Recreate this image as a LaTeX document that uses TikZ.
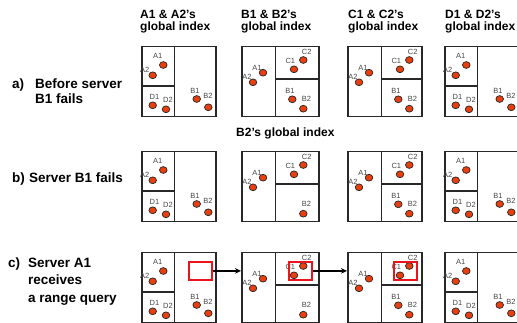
\documentclass[tikz,border=0pt]{standalone}
\usepackage{fontspec}
\setmainfont{Liberation Sans}
\usetikzlibrary{arrows.meta}

\definecolor{siteorange}{RGB}{232,62,16}
\definecolor{queryred}{RGB}{236,20,28}
\definecolor{linegray}{RGB}{40,40,40}
\definecolor{labgray}{RGB}{70,70,70}

\tikzset{
  frame/.style={draw=linegray, line width=1.5pt, minimum height=70pt,
    inner sep=0pt, anchor=north west},
  divider/.style={draw=linegray, line width=1.5pt},
  site/.style={draw=black!85, line width=0.7pt, fill=siteorange},
  sitelab/.style={text=labgray, font=\fontsize{7.5}{8}\selectfont, inner sep=0pt},
  query/.style={draw=queryred, line width=1.8pt, minimum width=23pt,
    minimum height=18pt, inner sep=0pt, anchor=north west},
  fwd/.style={draw=black, line width=1.4pt, -{Stealth[length=6pt,width=5.5pt]}},
  coltitle/.style={font=\bfseries\fontsize{12}{13.5}\selectfont,
    inner sep=0pt, anchor=base west},
  rowlab/.style={font=\bfseries\fontsize{13.5}{15}\selectfont,
    inner sep=0pt, anchor=base west},
}

% one server site: dot position, label position, label text
\newcommand\site[5]{%
  \node[sitelab] at (#3,#4) {#5};
  \draw[site] (#1,#2) ellipse [x radius=3.8, y radius=3.4];}

% index owned by an A/D server: A and D cells on the left, B cell on the right
% #1 name, #2 left, #3 top, #4 width
\newcommand\adindex[4]{%
  \node[frame, minimum width=#4pt] (#1) at (#2,#3) {};
  \begin{scope}[shift={(#2,#3)}]
    \draw[divider] (33.5,0) -- (33.5,70);
    \draw[divider] (0,40) -- (33.5,40);
    \site{22.3}{19}{16.8}{9.5}{A1}
    \site{11.7}{29.3}{3.8}{24}{A2}
    \site{11.7}{59.3}{13.5}{51}{D1}
    \site{25}{63.3}{27}{54}{D2}
    \site{55.7}{53}{54}{45}{B1}
    \site{67.3}{61.3}{67}{50}{B2}
  \end{scope}}

% index owned by a B/C server: A cell on the left, C and B cells on the right
% #1 name, #2 left, #3 top, #4 width, #5 extra sites
\newcommand\bcindex[5]{%
  \node[frame, minimum width=#4pt] (#1) at (#2,#3) {};
  \begin{scope}[shift={(#2,#3)}]
    \draw[divider] (34.5,0) -- (34.5,70);
    \draw[divider] (34.5,33) -- (#4,33);
    \site{22}{26.7}{16}{21.7}{A1}
    \site{12}{36.3}{6}{30.7}{A2}
    \site{53}{23.3}{49.3}{14.7}{C1}
    \site{62.3}{14}{65.7}{5.7}{C2}
    #5
    \site{62.3}{62.7}{65.5}{53}{B2}
  \end{scope}}

\newcommand\bonesite{\site{51.3}{53.3}{49}{44.7}{B1}}

\begin{document}
\begin{tikzpicture}[x=1pt, y=-1pt]
  \useasboundingbox (0,0) rectangle (517,323);
  \clip (0,0) rectangle (517,323);

  % column headings
  \node[coltitle] (ta1) at (140,18.5) {A1 \& A2’s};
  \node[coltitle] (ta2) at (140,30.5) {global index};
  \node[coltitle] (tb1) at (241,18.5) {B1 \& B2’s};
  \node[coltitle] (tb2) at (241,30.5) {global index};
  \node[coltitle] (tc1) at (348,18.5) {C1 \& C2’s};
  \node[coltitle] (tc2) at (348,30.5) {global index};
  \node[coltitle] (td1) at (445,18.5) {D1 \& D2’s};
  \node[coltitle] (td2) at (445,30.5) {global index};
  \node[coltitle] (tb2row) at (236,137) {B2’s global index};

  % row captions
  \node[rowlab] (la) at (12,89) {a)};
  \node[rowlab] (la1) at (35,89) {Before server};
  \node[rowlab] (la2) at (35,104) {B1 fails};
  \node[rowlab] (lb) at (12,183) {b)};
  \node[rowlab] (lb1) at (29,183) {Server B1 fails};
  \node[rowlab] (lc) at (8,268) {c)};
  \node[rowlab] (lc1) at (28,268) {Server A1};
  \node[rowlab] (lc2) at (28,285) {receives};
  \node[rowlab] (lc3) at (28,302) {a range query};

  % a) before server B1 fails
  \adindex{a1}{141}{46}{74}
  \bcindex{a2}{241}{46}{77}{\bonesite}
  \bcindex{a3}{347}{46}{74}{\bonesite}
  \adindex{a4}{444}{46}{75}

  % b) server B1 fails
  \adindex{b1}{141}{151}{74}
  \bcindex{b2}{241}{151}{77}{}
  \bcindex{b3}{347}{151}{74}{\bonesite}
  \adindex{b4}{444}{151}{75}

  % c) range query forwarded from A1
  \adindex{c1}{141}{252}{74}
  \bcindex{c2}{241}{252}{77}{}
  \bcindex{c3}{347}{252}{74}{\bonesite}
  \adindex{c4}{444}{252}{75}

  \node[query] (q1) at (188,261) {};
  \node[query] (q2) at (288,261) {};
  \node[query] (q3) at (393,261) {};

  \draw[fwd] (q1.east) -- (q1.east -| c2.west);
  \draw[fwd] (q2.east) -- (q2.east -| c3.west);
\end{tikzpicture}
\end{document}
